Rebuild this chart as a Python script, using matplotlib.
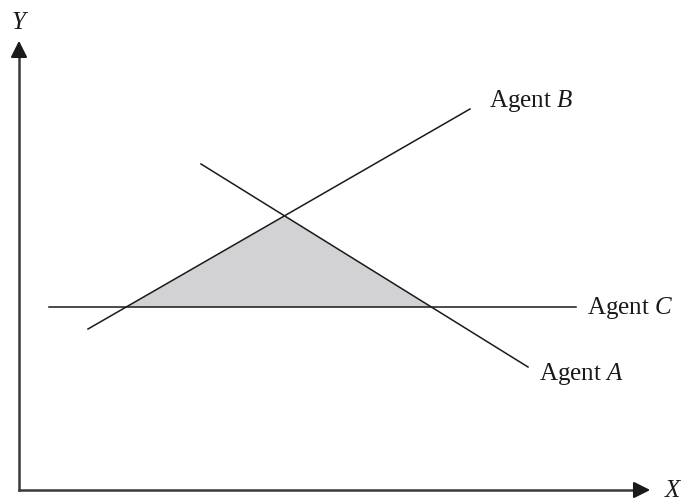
import numpy as np
import matplotlib.pyplot as plt

# line endpoints in picture units (x right, y down)
agent_a = [(201, 164), (528, 367)]
agent_b = [(88, 329), (470, 109)]
agent_c = [(49, 307), (576, 307)]
labels = ["Agent $\\mathit{A}$", "Agent $\\mathit{B}$", "Agent $\\mathit{C}$"]
label_pos = [(539, 380), (489, 107), (587, 314)]  # left, baseline

origin = (19, 490)
x_tip = (653, 490)
y_tip = (19, 38)

plt.rcParams['font.family'] = ['Liberation Serif', 'DejaVu Serif']
plt.rcParams['mathtext.fontset'] = 'custom'
plt.rcParams['mathtext.it'] = 'Liberation Serif:italic'
plt.rcParams['mathtext.rm'] = 'Liberation Serif'

fig = plt.figure(figsize=(6.83, 5.01), dpi=100)
ax = fig.add_axes([0, 0, 1, 1])
ax.set_xlim(0, 683)
ax.set_ylim(501, 0)
ax.axis('off')


def intersect(l1, l2):
    (x1, y1), (x2, y2) = l1
    (x3, y3), (x4, y4) = l2
    d = (x1 - x2) * (y3 - y4) - (y1 - y2) * (x3 - x4)
    t = ((x1 - x3) * (y3 - y4) - (y1 - y3) * (x3 - x4)) / d
    return (x1 + t * (x2 - x1), y1 + t * (y2 - y1))


tri = [intersect(agent_b, agent_c), intersect(agent_a, agent_b), intersect(agent_a, agent_c)]
ax.fill([p[0] for p in tri], [p[1] for p in tri], color='#d2d2d4', lw=0, zorder=1)

for ln in (agent_a, agent_b, agent_c):
    ax.plot([ln[0][0], ln[1][0]], [ln[0][1], ln[1][1]], color='#1a1a1a', lw=1.1, zorder=2)

for lab, (x, y) in zip(labels, label_pos):
    ax.text(x, y, lab, fontsize=18, ha='left', va='baseline', color='#1a1a1a')

# axes with arrows
ax.plot([origin[0], x_tip[0] - 10], [origin[1], origin[1]], color='#3a3a3a', lw=1.8)
ax.plot([origin[0], origin[0]], [origin[1], y_tip[1] + 10], color='#3a3a3a', lw=1.8)
ax.annotate('', xy=x_tip, xytext=(x_tip[0] - 20, x_tip[1]),
            arrowprops=dict(arrowstyle='-|>', color='#1a1a1a', lw=1.5, mutation_scale=25))
ax.annotate('', xy=y_tip, xytext=(y_tip[0], y_tip[1] + 20),
            arrowprops=dict(arrowstyle='-|>', color='#1a1a1a', lw=1.5, mutation_scale=25))
ax.text(673, 497, '$\\mathit{X}$', fontsize=18, ha='center', va='baseline', color='#1a1a1a')
ax.text(20, 29, '$\\mathit{Y}$', fontsize=18, ha='center', va='baseline', color='#1a1a1a')

fig.savefig('out.png', dpi=100)
